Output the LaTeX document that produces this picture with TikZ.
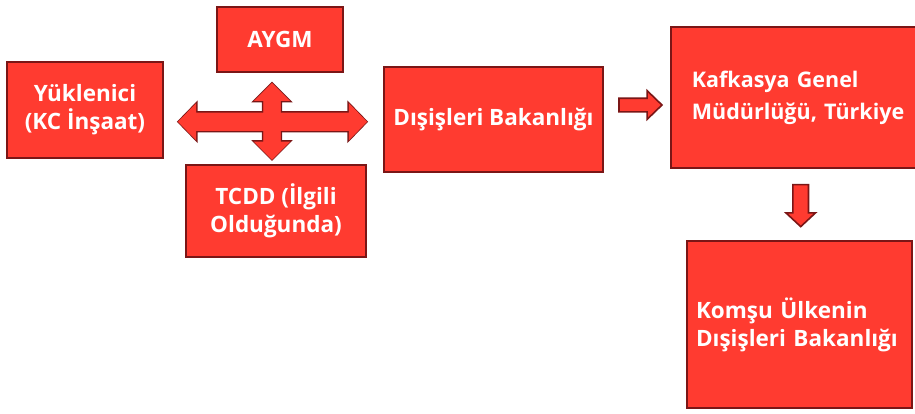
\documentclass[tikz,border=0pt]{standalone}
\usepackage{fontspec}
\setmainfont{Open Sans}
\usetikzlibrary{shapes.arrows,calc}
\definecolor{boxred}{HTML}{FF3B30}
\definecolor{edgered}{HTML}{7A1616}
\begin{document}
\begin{tikzpicture}[x=1pt,y=-1pt,
  box/.style={draw=edgered,line width=1.8pt,fill=boxred,text=white,
    font=\fontsize{22.5}{28}\selectfont\bfseries,align=center,inner sep=0pt},
  blockarrow/.style={draw=edgered,line width=1.6pt,fill=boxred,inner xsep=0pt},
  fillonly/.style={fill=boxred,draw=none,inner xsep=0pt}]
  \useasboundingbox (0,0) rectangle (915,413);
  % boxes
  \node[box,minimum width=156pt,minimum height=96pt] (yuk) at (85,110) {Yüklenici\\(KC İnşaat)};
  \node[box,minimum width=126pt,minimum height=65pt] (aygm) at (280,39.5) {AYGM};
  \node[box,minimum width=180pt,minimum height=92pt] (tcdd) at (276,211) {TCDD (İlgili\\Olduğunda)};
  \node[box,minimum width=219pt,minimum height=105pt] (dis) at (493.5,119.5) {Dışişleri Bakanlığı};
  \node[box,anchor=west,align=left,text width=240pt,inner xsep=21pt,minimum height=141pt,
    font=\fontsize{21.5}{32}\selectfont\bfseries] (kaf) at (670,97.5) {Kafkasya Genel\\Müdürlüğü, Türkiye};
  \node[box,align=left,text width=207pt,inner xsep=9pt,minimum height=167pt] (kom) at (799.5,324.5)
    {Komşu Ülkenin\\Dışişleri Bakanlığı};
  % arrows
  \coordinate (hub) at ($(yuk.east)!0.5!(dis.west)$);
  \node[blockarrow,double arrow,inner ysep=9pt,minimum height=189pt,
    double arrow head extend=9.5pt,double arrow tip angle=91.6] (hor) at ($(hub)+(-1,7)$) {};
  \node[blockarrow,double arrow,rotate=90,inner ysep=8.5pt,minimum height=77pt,
    double arrow head extend=9.5pt,double arrow tip angle=90] (ver) at ($(hub)+(-1.5,6.5)$) {};
  \node[fillonly,double arrow,inner ysep=9pt,minimum height=189pt,
    double arrow head extend=9.5pt,double arrow tip angle=91.6] at (hor) {};
  \node[fillonly,double arrow,rotate=90,inner ysep=8.5pt,minimum height=77pt,
    double arrow head extend=9.5pt,double arrow tip angle=90] at (ver) {};
  \node[blockarrow,single arrow,inner ysep=6pt,minimum height=43pt,
    single arrow head extend=7.5pt,single arrow tip angle=88] (toKaf) at ($(dis.east)!0.5!(kaf.west)+(0,-3.5)$) {};
  \node[blockarrow,single arrow,rotate=-90,inner ysep=7pt,minimum height=42pt,
    single arrow head extend=7pt,single arrow tip angle=94] (toKom) at ($(kaf.south)!0.5!(kom.north)+(-5,-2.5)$) {};
\end{tikzpicture}
\end{document}
